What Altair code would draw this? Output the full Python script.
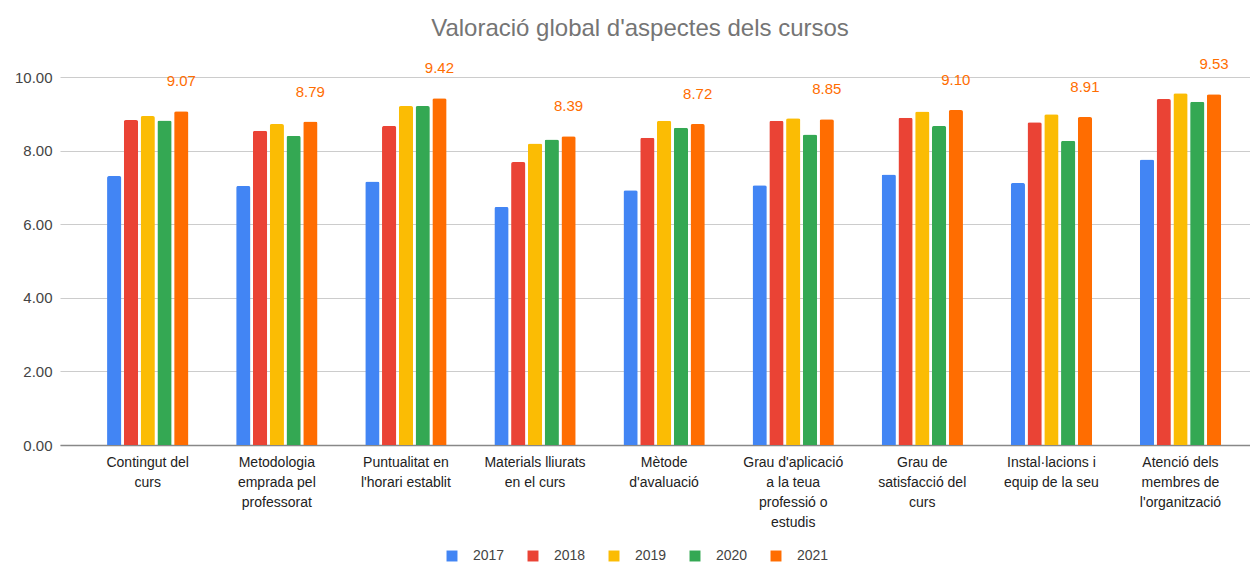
import altair as alt
import pandas as pd

categories = [
    "Contingut del|curs",
    "Metodologia|emprada pel|professorat",
    "Puntualitat en|l'horari establit",
    "Materials lliurats|en el curs",
    "Mètode|d'avaluació",
    "Grau d'aplicació|a la teua|professió o|estudis",
    "Grau de|satisfacció del|curs",
    "Instal·lacions i|equip de la seu",
    "Atenció dels|membres de|l'organització",
]
years = ["2017", "2018", "2019", "2020", "2021"]
v2017 = [7.31, 7.04, 7.16, 6.47, 6.92, 7.06, 7.35, 7.12, 7.76]
v2018 = [8.83, 8.54, 8.67, 7.69, 8.35, 8.81, 8.89, 8.77, 9.40]
v2019 = [8.94, 8.72, 9.21, 8.19, 8.81, 8.88, 9.06, 8.99, 9.56]
v2020 = [8.82, 8.40, 9.21, 8.30, 8.62, 8.44, 8.67, 8.27, 9.33]
v2021 = [9.07, 8.79, 9.42, 8.39, 8.72, 8.85, 9.10, 8.91, 9.53]
colors = ["#4285F4", "#EA4335", "#FBBC04", "#34A853", "#FF6D01"]

series = [v2017, v2018, v2019, v2020, v2021]
rows = []
for y, vals in zip(years, series):
    for c, v in zip(categories, vals):
        rows.append({"cat": c, "year": y, "value": v})
df = pd.DataFrame(rows)

W, H = 1190, 368
FONT = "Liberation Sans"

x = alt.X(
    "cat:N",
    sort=categories,
    title=None,
    scale=alt.Scale(paddingInner=0.37, paddingOuter=0.294, align=0.62),
    axis=alt.Axis(
        labelAngle=0,
        labelExpr="split(datum.label, '|')",
        labelFont=FONT,
        labelFontSize=14,
        labelColor="#222222",
        labelLineHeight=20,
        labelPadding=10,
        ticks=False,
        domainColor="#888888",
        domainWidth=1.5,
        labelLimit=200,
    ),
)
y = alt.Y(
    "value:Q",
    title=None,
    scale=alt.Scale(domain=[0, 10], nice=False),
    axis=alt.Axis(
        values=[0, 2, 4, 6, 8, 10],
        format=".2f",
        labelFont=FONT,
        labelFontSize=15,
        labelColor="#444444",
        labelPadding=8,
        ticks=False,
        domain=False,
        gridColor="#cccccc",
        gridWidth=1,
    ),
)

bars = alt.Chart(df).mark_bar(cornerRadiusTopLeft=2, cornerRadiusTopRight=2).encode(
    x=x,
    xOffset=alt.XOffset("year:N", sort=years,
                        scale=alt.Scale(paddingInner=0.15, paddingOuter=0)),
    y=y,
    color=alt.Color(
        "year:N",
        sort=years,
        scale=alt.Scale(domain=years, range=colors),
        legend=alt.Legend(
            title=None,
            orient="none",
            direction="horizontal",
            legendX=385,
            legendY=472,
            symbolType="square",
            symbolSize=120,
            symbolStrokeWidth=0,
            labelFont=FONT,
            labelFontSize=14,
            labelColor="#444444",
            labelOffset=14,
            columnPadding=21,
            symbolOffset=0,
        ),
    ),
)

labels = alt.Chart(df).transform_filter(alt.datum.year == "2021").mark_text(
    baseline="bottom", dy=-22, fontSize=15, font=FONT, color="#FF6D01"
).encode(
    x=x,
    xOffset=alt.XOffset("year:N", sort=years,
                        scale=alt.Scale(domain=years, paddingInner=0.15, paddingOuter=0)),
    y=y,
    text=alt.Text("value:Q", format=".2f"),
)

chart = alt.layer(bars, labels).properties(
    width=W,
    height=H,
    padding={"left": 52, "top": 69, "right": 0, "bottom": 121},
    autosize=alt.AutoSizeParams(type="none"),
    title=alt.TitleParams(
        "Valoració global d'aspectes dels cursos",
        font=FONT,
        fontSize=24,
        fontWeight="normal",
        color="#757575",
        anchor="middle",
        dx=-15,
        offset=16,
    ),
).configure_view(stroke=None)

chart.save("out.html", embed_options={"renderer": "svg", "actions": False})
